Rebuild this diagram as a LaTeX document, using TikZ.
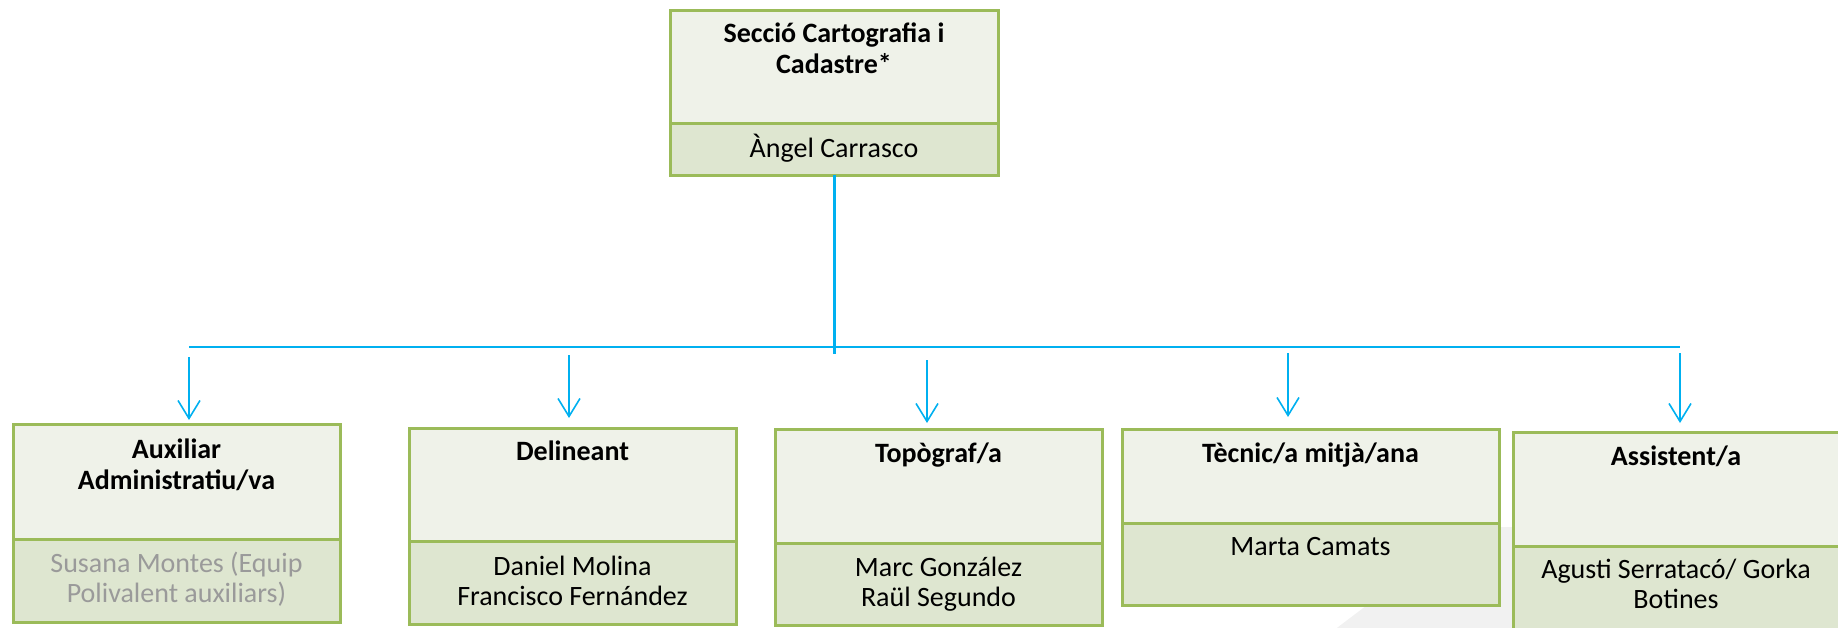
\documentclass[tikz,border=0pt]{standalone}
\usepackage{fontspec}
\setmainfont{Carlito}
\usetikzlibrary{arrows.meta,calc}
\definecolor{boxline}{HTML}{9BBB59}
\definecolor{upfill}{HTML}{EFF2E9}
\definecolor{lofill}{HTML}{DEE6D0}
\definecolor{conn}{HTML}{00B0F0}
\definecolor{shadegrey}{HTML}{F1F1F1}
\definecolor{mutetext}{HTML}{9A9A9A}
\begin{document}
\begin{tikzpicture}[x=1pt,y=-1pt,
  upbox/.style={draw=boxline, fill=upfill, line width=3pt, inner sep=0pt, outer sep=0pt, anchor=north west},
  lobox/.style={draw=boxline, fill=lofill, line width=3pt, inner sep=0pt, outer sep=0pt, anchor=north west},
  ttl/.style={font=\fontsize{28}{31}\selectfont\bfseries, align=flush center, text width=370pt, anchor=base, inner sep=0pt},
  nm/.style={font=\fontsize{28}{30}\selectfont, align=flush center, text width=370pt, anchor=base, inner sep=0pt},
  trunkline/.style={draw=conn, line width=3pt},
  busline/.style={draw=conn, line width=2pt},
  arr/.style={draw=conn, line width=1.6pt, -{Straight Barb[length=18pt,width=22pt]}}
]
\path[use as bounding box] (0,0) rectangle (1838,627);
\clip (0,0) rectangle (1838,627);

% faint background shape
\fill[shadegrey, rounded corners=14pt] (1321,640) -- (1470,527) -- (1850,527) -- (1850,640) -- cycle;

% top box
\node[upbox, minimum width=328pt, minimum height=113pt] (tu) at (670,10) {};
\node[lobox, minimum width=328pt, minimum height=52pt] (tl) at (670,123) {};
\node[ttl] (tt) at ($(tu.north)+(0,32)$) {Secció Cartografia i\\Cadastre*};
\node[nm] (tn) at ($(tl.north)+(0,34)$) {Àngel Carrasco};

% box 1
\node[upbox, minimum width=327pt, minimum height=115pt] (b1u) at (13,424) {};
\node[lobox, minimum width=327pt, minimum height=83pt] (b1l) at (13,539) {};
\node[ttl] (b1t) at ($(b1u.north)+(0,34)$) {Auxiliar\\Administratiu/va};
\node[nm, text=mutetext] (b1n) at ($(b1l.north)+(0,33)$) {Susana Montes (Equip\\Polivalent auxiliars)};

% box 2
\node[upbox, minimum width=327pt, minimum height=113pt] (b2u) at (409,428) {};
\node[lobox, minimum width=327pt, minimum height=83pt] (b2l) at (409,541) {};
\node[ttl] (b2t) at ($(b2u.north)+(0,32)$) {Delineant};
\node[nm] (b2n) at ($(b2l.north)+(0,34)$) {Daniel Molina\\Francisco Fernández};

% box 3
\node[upbox, minimum width=327pt, minimum height=114pt] (b3u) at (775,429) {};
\node[lobox, minimum width=327pt, minimum height=82pt] (b3l) at (775,543) {};
\node[ttl] (b3t) at ($(b3u.north)+(0,33)$) {Topògraf/a};
\node[nm] (b3n) at ($(b3l.north)+(0,33)$) {Marc González\\Raül Segundo};

% box 4
\node[upbox, minimum width=377pt, minimum height=94pt] (b4u) at (1122,429) {};
\node[lobox, minimum width=377pt, minimum height=82pt] (b4l) at (1122,523) {};
\node[ttl] (b4t) at ($(b4u.north)+(0,33)$) {Tècnic/a mitjà/ana};
\node[nm] (b4n) at ($(b4l.north)+(0,32)$) {Marta Camats};

% box 5
\node[upbox, minimum width=326pt, minimum height=114pt] (b5u) at (1513,432) {};
\node[lobox, minimum width=326pt, minimum height=92pt] (b5l) at (1513,546) {};
\node[ttl] (b5t) at ($(b5u.north)+(0,33)$) {Assistent/a};
\node[nm] (b5n) at ($(b5l.north)+(0,32)$) {Agusti Serratacó/ Gorka\\Botines};

% connectors
\coordinate (tj) at (834,354);
\coordinate (hl) at (189,346.5);
\coordinate (hr) at (1680,346.5);
\draw[trunkline] (tl.south) -- (tj);
\draw[busline] (hl) -- (hr);

\coordinate (a1) at (189,357);
\coordinate (a2) at (569,355);
\coordinate (a3) at (927,360);
\coordinate (a4) at (1288,353);
\coordinate (a5) at (1680,353);
\draw[arr, shorten >=4pt] (a1) -- (a1 |- b1u.north);
\draw[arr, shorten >=10pt] (a2) -- (a2 |- b2u.north);
\draw[arr, shorten >=6pt] (a3) -- (a3 |- b3u.north);
\draw[arr, shorten >=12pt] (a4) -- (a4 |- b4u.north);
\draw[arr, shorten >=9pt] (a5) -- (a5 |- b5u.north);
\end{tikzpicture}
\end{document}
